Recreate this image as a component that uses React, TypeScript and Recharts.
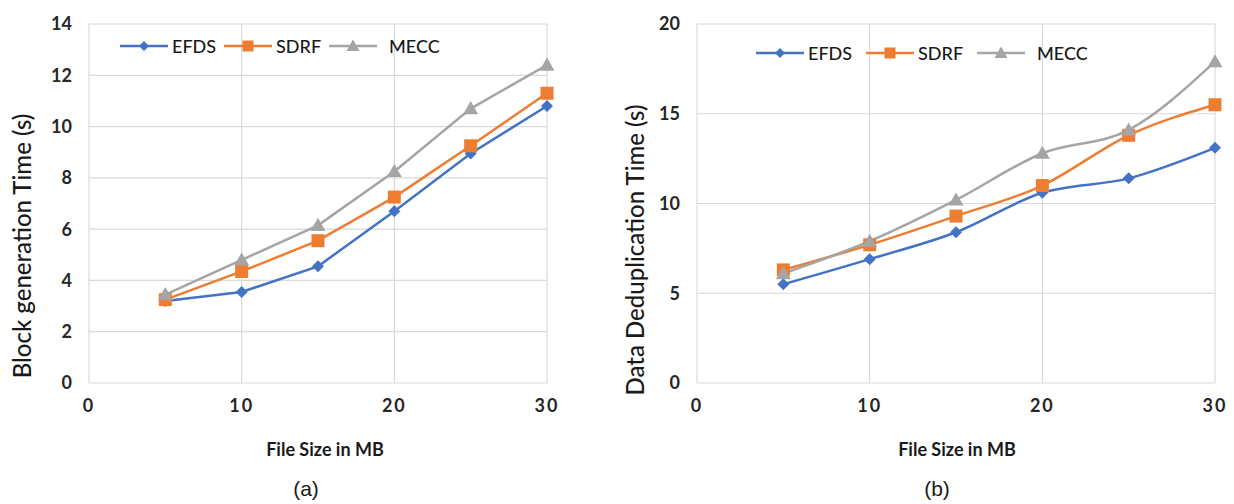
import React from 'react';
import { LineChart, Line, XAxis, YAxis, CartesianGrid, Legend } from 'recharts';

// file sizes (MB)
const sizes = [5, 10, 15, 20, 25, 30];

// (a) block generation time (s)
const efdsBlock = [3.2, 3.55, 4.55, 6.7, 8.95, 10.8];
const sdrfBlock = [3.25, 4.35, 5.55, 7.25, 9.25, 11.3];
const meccBlock = [3.45, 4.8, 6.15, 8.25, 10.7, 12.4];

// (b) data deduplication time (s)
const efdsDedup = [5.5, 6.9, 8.4, 10.6, 11.4, 13.1];
const sdrfDedup = [6.3, 7.7, 9.3, 11.0, 13.8, 15.5];
const meccDedup = [6.1, 7.9, 10.2, 12.8, 14.1, 17.9];

const xTicks = [0, 10, 20, 30];
const blockTicks = [0, 2, 4, 6, 8, 10, 12, 14];
const dedupTicks = [0, 5, 10, 15, 20];

const BLUE = '#4472C4';
const ORANGE = '#ED7D31';
const GRAY = '#A5A5A5';
const FONT = 'Lato, "Open Sans", sans-serif';
const INK = '#1a1a1a';

const blockData = sizes.map((s, i) => ({ size: s, EFDS: efdsBlock[i], SDRF: sdrfBlock[i], MECC: meccBlock[i] }));
const dedupData = sizes.map((s, i) => ({ size: s, EFDS: efdsDedup[i], SDRF: sdrfDedup[i], MECC: meccDedup[i] }));

const Diamond = ({ cx, cy, r = 5, fill }: any) => (
  <path d={`M${cx},${cy - r} L${cx + r},${cy} L${cx},${cy + r} L${cx - r},${cy} Z`} fill={fill} />
);
const Square = ({ cx, cy, r = 5, fill }: any) => (
  <rect x={cx - r} y={cy - r} width={r * 2} height={r * 2} fill={fill} />
);
const Triangle = ({ cx, cy, r = 6, fill }: any) => (
  <path d={`M${cx},${cy - r} L${cx + r},${cy + r * 0.75} L${cx - r},${cy + r * 0.75} Z`} fill={fill} />
);

const series = [
  { key: 'EFDS', color: BLUE, Mark: Diamond, r: 5 },
  { key: 'SDRF', color: ORANGE, Mark: Square, r: 5.5 },
  { key: 'MECC', color: GRAY, Mark: Triangle, r: 6.5 },
];

const LegendBox = ({ gaps }: { gaps: number[] }) => (
  <div style={{ display: 'flex', alignItems: 'center', fontFamily: FONT, fontSize: 18, fontWeight: 500, color: INK }}>
    {series.map((s, i) => (
      <div key={s.key} style={{ display: 'flex', alignItems: 'center', marginRight: gaps[i] }}>
        <svg width={48} height={16}>
          <line x1={0} y1={8} x2={48} y2={8} stroke={s.color} strokeWidth={2.5} />
          <s.Mark cx={24} cy={8} r={s.r} fill={s.color} />
        </svg>
        <span style={{ marginLeft: i === 2 ? 12 : 4 }}>{s.key}</span>
      </div>
    ))}
  </div>
);

const tickStyle = { fontFamily: FONT, fontSize: 18, fontWeight: 700, fill: '#262626' };

const Panel = ({ data, yTicks, yMax, width, right, yAxisWidth, legendLeft, legendTop, gaps, smooth }: any) => (
  <LineChart width={width} height={440} data={data} margin={{ top: 24, right, bottom: 27, left: 0 }}>
    <CartesianGrid stroke="#d9d9d9" strokeWidth={1.2} />
    <XAxis
      dataKey="size"
      type="number"
      domain={[0, 30]}
      ticks={xTicks}
      axisLine={false}
      tickLine={false}
      tickSize={0}
      tickMargin={16}
      height={30}
      tick={{ ...tickStyle, letterSpacing: 2 }}
    />
    <YAxis
      type="number"
      domain={[0, yMax]}
      ticks={yTicks}
      axisLine={false}
      tickLine={false}
      tickSize={0}
      tickMargin={17}
      width={yAxisWidth}
      tick={tickStyle}
    />
    <Legend
      layout="horizontal"
      verticalAlign="middle"
      align="center"
      wrapperStyle={{ position: 'absolute', left: legendLeft, top: legendTop, width: 'auto' }}
      content={() => <LegendBox gaps={gaps} />}
    />
    {series.map((s) => (
      <Line
        key={s.key}
        type={smooth ? 'monotone' : 'linear'}
        dataKey={s.key}
        stroke={s.color}
        strokeWidth={2.5}
        isAnimationActive={false}
        dot={(p: any) => <s.Mark key={`${s.key}-${p.index}`} cx={p.cx} cy={p.cy} r={s.r + 1} fill={s.color} />}
        activeDot={false}
      />
    ))}
  </LineChart>
);

const abs = (left: number, top: number): React.CSSProperties => ({ position: 'absolute', left, top });

const rotated = (left: number, top: number): React.CSSProperties => ({
  ...abs(left, top),
  transform: 'translate(-50%, -50%) rotate(-90deg)',
  whiteSpace: 'nowrap',
  fontFamily: FONT,
  fontSize: 24,
  fontWeight: 500,
  color: INK,
});

const centered = (left: number, top: number, size: number, family = FONT, weight = 700): React.CSSProperties => ({
  ...abs(left, top),
  transform: 'translate(-50%, -50%)',
  whiteSpace: 'nowrap',
  fontFamily: family,
  fontSize: size,
  fontWeight: weight,
  color: INK,
});

export default function App() {
  return (
    <div style={{ position: 'absolute', left: 0, top: 0, width: 1234, height: 504, background: '#fff', overflow: 'hidden' }}>
      <div style={abs(0, 0)}>
        <Panel data={blockData} yTicks={blockTicks} yMax={14} width={600} right={53} yAxisWidth={89}
          legendLeft={120} legendTop={35} gaps={[8, 8, 0]} smooth={false} />
      </div>
      <div style={abs(610, 0)}>
        <Panel data={dedupData} yTicks={dedupTicks} yMax={20} width={624} right={19} yAxisWidth={87}
          legendLeft={146} legendTop={42} gaps={[14, 14, 0]} smooth={true} />
      </div>

      <div style={rotated(21, 246)}>Block generation Time (s)</div>
      <div style={rotated(634, 250)}>Data Deduplication Time (s)</div>

      <div style={centered(325, 449, 18)}>File Size in MB</div>
      <div style={centered(957, 449, 18)}>File Size in MB</div>

      <div style={centered(306, 489, 21, 'Liberation Sans, Arial, sans-serif', 400)}>(a)</div>
      <div style={centered(937, 489, 21, 'Liberation Sans, Arial, sans-serif', 400)}>(b)</div>
    </div>
  );
}
